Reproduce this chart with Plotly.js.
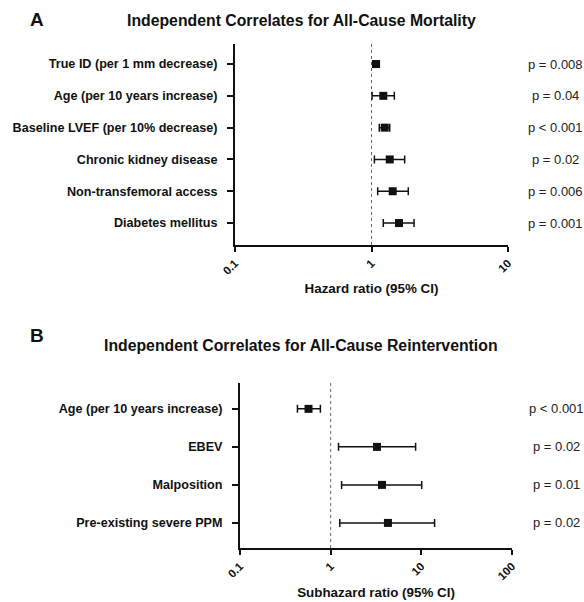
<!DOCTYPE html>
<html>
<head>
<meta charset="utf-8">
<script src="https://cdn.plot.ly/plotly-3.0.1.min.js"></script>
<style>html,body{margin:0;padding:0;background:#fff;}#chart{width:584px;height:602px;}</style>
</head>
<body>
<div id="chart"></div>
<script>
// Panel A data
const catsA = ["True ID (per 1 mm decrease)", "Age (per 10 years increase)", "Baseline LVEF (per 10% decrease)", "Chronic kidney disease", "Non-transfemoral access", "Diabetes mellitus"];
const hrA = [1.08, 1.22, 1.25, 1.36, 1.43, 1.59];
const loA = [1.02, 1.01, 1.14, 1.05, 1.11, 1.22];
const hiA = [1.14, 1.47, 1.36, 1.75, 1.86, 2.05];
const pA = ["p = 0.008", "p = 0.04", "p < 0.001", "p = 0.02", "p = 0.006", "p = 0.001"];

// Panel B data
const catsB = ["Age (per 10 years increase)", "EBEV", "Malposition", "Pre-existing severe PPM"];
const hrB = [0.57, 3.24, 3.68, 4.28];
const loB = [0.43, 1.22, 1.32, 1.26];
const hiB = [0.77, 8.65, 10.1, 14.0];
const pB = ["p < 0.001", "p = 0.02", "p = 0.01", "p = 0.02"];

const ticksA = [0.1, 1, 10];
const ticksB = [0.1, 1, 10, 100];

const FONT = "Liberation Sans, Arial, sans-serif";
const idxA = catsA.map((_, i) => i);
const idxB = catsB.map((_, i) => i);

function trace(vals, lo, hi, idx, xa, ya) {
  return {
    type: "scatter", mode: "markers",
    x: vals, y: idx, xaxis: xa, yaxis: ya,
    marker: {symbol: "square", size: 8, color: "#111"},
    error_x: {type: "data", symmetric: false,
      array: vals.map((v, i) => hi[i] - v),
      arrayminus: vals.map((v, i) => v - lo[i]),
      color: "#111", thickness: 1.5, width: 4},
    showlegend: false, hoverinfo: "skip"
  };
}

const data = [
  trace(hrA, loA, hiA, idxA, "x", "y"),
  trace(hrB, loB, hiB, idxB, "x2", "y2")
];

const axX = (ticks, dom, anchor, title, standoff) => ({
  type: "log", domain: dom, anchor: anchor,
  range: [Math.log10(ticks[0]), Math.log10(ticks[ticks.length - 1])],
  tickvals: ticks, ticktext: ticks.map(String), tickangle: -45,
  ticks: "outside", ticklen: 5, tickwidth: 2, tickcolor: "#111",
  showline: true, linecolor: "#111", linewidth: 2, showgrid: false, zeroline: false,
  tickfont: {family: FONT, size: 11.5, color: "#111", weight: "bold"},
  title: {text: title, font: {family: FONT, size: 13.4, color: "#111", weight: "bold"}, standoff: standoff}
});
const axY = (cats, dom, anchor, range) => ({
  domain: dom, anchor: anchor, range: range,
  tickvals: cats.map((_, i) => i), ticktext: cats,
  ticks: "outside", ticklen: 6, tickwidth: 2, tickcolor: "#111", ticklabelstandoff: 7,
  showline: true, linecolor: "#111", linewidth: 2, showgrid: false, zeroline: false,
  tickfont: {family: FONT, size: 12.6, color: "#111", weight: "bold"}
});

const ann = [];
pA.forEach((p, i) => ann.push({text: p, xref: "paper", yref: "y", x: 555/584, y: i, xanchor: "center", yanchor: "middle", showarrow: false, font: {family: FONT, size: 13, color: "#222"}}));
pB.forEach((p, i) => ann.push({text: p, xref: "paper", yref: "y2", x: 556/584, y: i, xanchor: "center", yanchor: "middle", showarrow: false, font: {family: FONT, size: 13, color: "#222"}}));
ann.push({text: "<b>A</b>", xref: "paper", yref: "paper", x: 37/584, y: 1 - 20/602, xanchor: "center", yanchor: "middle", showarrow: false, font: {family: FONT, size: 19, color: "#111"}});
ann.push({text: "<b>Independent Correlates for All-Cause Mortality</b>", xref: "paper", yref: "paper", x: 301/584, y: 1 - 21/602, xanchor: "center", yanchor: "middle", showarrow: false, font: {family: FONT, size: 15.8, color: "#111"}});
ann.push({text: "<b>B</b>", xref: "paper", yref: "paper", x: 37/584, y: 1 - 335/602, xanchor: "center", yanchor: "middle", showarrow: false, font: {family: FONT, size: 19, color: "#111"}});
ann.push({text: "<b>Independent Correlates for All-Cause Reintervention</b>", xref: "paper", yref: "paper", x: 301/584, y: 1 - 345/602, xanchor: "center", yanchor: "middle", showarrow: false, font: {family: FONT, size: 15.8, color: "#111"}});

const layout = {
  width: 584, height: 602,
  margin: {l: 0, r: 0, t: 0, b: 0},
  paper_bgcolor: "#fff", plot_bgcolor: "#fff",
  xaxis: axX(ticksA, [235/584, 508/584], "y", "Hazard ratio (95% CI)", 8),
  yaxis: axY(catsA, [1 - 245/602, 1 - 44/602], "x", [5.69, -0.63]),
  xaxis2: axX(ticksB, [240/584, 512/584], "y2", "Subhazard ratio (95% CI)", 7),
  yaxis2: axY(catsB, [1 - 548/602, 1 - 383/602], "x2", [3.66, -0.68]),
  shapes: [
    {type: "line", xref: "x", yref: "y domain", x0: 1, x1: 1, y0: 0, y1: 1, line: {color: "#666", width: 1, dash: "dot"}, layer: "below"},
    {type: "line", xref: "x2", yref: "y2 domain", x0: 1, x1: 1, y0: 0, y1: 1, line: {color: "#666", width: 1, dash: "dot"}, layer: "below"}
  ],
  annotations: ann
};

Plotly.newPlot("chart", data, layout, {displayModeBar: false, staticPlot: true});
</script>
</body>
</html>
